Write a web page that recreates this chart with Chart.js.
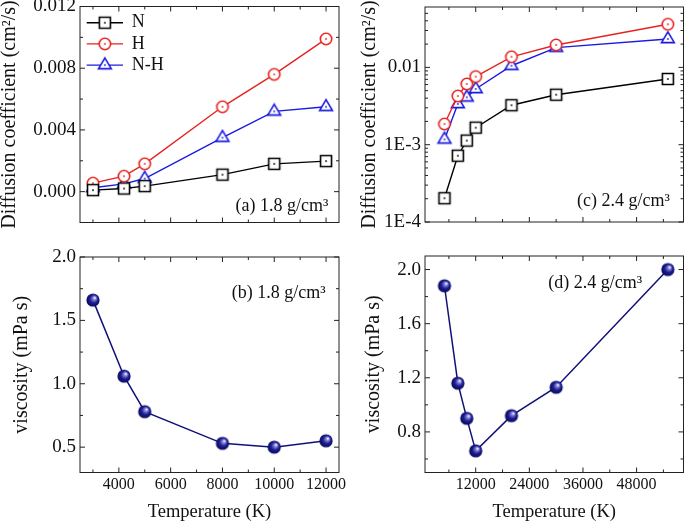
<!DOCTYPE html>
<html>
<head>
<meta charset="utf-8">
<script src="https://cdn.jsdelivr.net/npm/chart.js@4/dist/chart.umd.min.js"></script>
<style>
  html, body { margin: 0; padding: 0; background: #fff; width: 685px; height: 523px; overflow: hidden; }
  canvas { position: absolute; }
</style>
</head>
<body>
<canvas id="chartA" width="343" height="232" style="left:0;top:0"></canvas>
<canvas id="chartC" width="342" height="232" style="left:343px;top:0"></canvas>
<canvas id="chartB" width="352" height="291" style="left:0;top:232px"></canvas>
<canvas id="chartD" width="342" height="291" style="left:343px;top:232px"></canvas>
<script>
// ---- data, 1.8 g/cm3 ----
const tempLow = [3000, 4200, 5000, 8000, 10000, 12000];
const diffN_18 = [0.0001, 0.0002, 0.00036, 0.0011, 0.0018, 0.00198];
const diffH_18 = [0.00055, 0.001, 0.0018, 0.0055, 0.0076, 0.0099];
const diffNH_18 = [0.00025, 0.0005, 0.00085, 0.0035, 0.0052, 0.0055];
const visc_18 = [1.66, 1.06, 0.78, 0.53, 0.50, 0.55];

// ---- data, 2.4 g/cm3 ----
const tempHigh = [5000, 8000, 10000, 12000, 20000, 30000, 55000];
const diffN_24 = [0.000203, 0.00072, 0.00113, 0.00166, 0.00324, 0.00443, 0.00708];
const diffH_24 = [0.00185, 0.00426, 0.0061, 0.0076, 0.0137, 0.0195, 0.0361];
const diffNH_24 = [0.00117, 0.00336, 0.0041, 0.00526, 0.0105, 0.018, 0.0233];
const visc_24 = [1.88, 1.16, 0.90, 0.66, 0.92, 1.13, 2.0];

// ---- ticks ----
const tempTicksLow = [4000, 6000, 8000, 10000, 12000];
const tempMinorLow = [3000, 5000, 7000, 9000, 11000];
const tempTicksHigh = [12000, 24000, 36000, 48000];
const tempMinorHigh = [6000, 18000, 30000, 42000, 54000];
const diffTicksA = [0, 0.004, 0.008, 0.012];
const diffLabelsA = ['0.000', '0.004', '0.008', '0.012'];
const diffMinorA = [-0.002, 0.002, 0.006, 0.010];
const diffTicksC = [1e-4, 1e-3, 1e-2];
const diffLabelsC = ['1E-4', '1E-3', '0.01'];
const diffMinorC = [2e-4, 3e-4, 4e-4, 5e-4, 6e-4, 7e-4, 8e-4, 9e-4,
                    2e-3, 3e-3, 4e-3, 5e-3, 6e-3, 7e-3, 8e-3, 9e-3, 2e-2, 3e-2, 4e-2, 5e-2];
const viscTicksB = [0.5, 1.0, 1.5, 2.0];
const viscLabelsB = ['0.5', '1.0', '1.5', '2.0'];
const viscMinorB = [0.75, 1.25, 1.75];
const viscTicksD = [0.8, 1.2, 1.6, 2.0];
const viscLabelsD = ['0.8', '1.2', '1.6', '2.0'];
const viscMinorD = [0.6, 1.0, 1.4, 1.8];

const FONT = 'Liberation Serif';
const RED = '#e8221f', BLUE = '#1b1be0', NAVY = '#10107a';

// open markers with a dot in the middle
function marker(kind, color) {
  const c = document.createElement('canvas');
  c.width = 18; c.height = 18;
  const g = c.getContext('2d');
  g.lineWidth = 1.6; g.strokeStyle = color; g.fillStyle = '#fff';
  g.beginPath();
  if (kind === 'square') g.rect(3.5, 3.5, 11, 11);
  else if (kind === 'circle') g.arc(9, 9, 5.7, 0, Math.PI * 2);
  else { g.moveTo(9, 1.8); g.lineTo(15.4, 12.6); g.lineTo(2.6, 12.6); g.closePath(); }
  g.fill(); g.stroke();
  g.fillStyle = color;
  g.fillRect(8.2, 8.2, 1.6, 1.6);
  return c;
}
function ball() {
  const c = document.createElement('canvas');
  c.width = 16; c.height = 16;
  const g = c.getContext('2d');
  const grd = g.createRadialGradient(10, 5.5, 0.3, 8, 8, 7);
  grd.addColorStop(0, '#f6f6ff');
  grd.addColorStop(0.22, '#8080d4');
  grd.addColorStop(0.55, '#1d1d94');
  grd.addColorStop(1, '#060650');
  g.fillStyle = grd;
  g.beginPath(); g.arc(8, 8, 6.6, 0, Math.PI * 2); g.fill();
  return c;
}

const framePlugin = {
  id: 'frame',
  beforeDatasetsDraw(chart, args, opts) {
    const {ctx, chartArea: a} = chart;
    const x = chart.scales.x, y = chart.scales.y;
    ctx.save();
    ctx.strokeStyle = '#222';
    ctx.lineWidth = 1;
    ctx.strokeRect(a.left, a.top, a.right - a.left, a.bottom - a.top);
    ctx.beginPath();
    const vTick = (v, len) => {
      const p = x.getPixelForValue(v);
      ctx.moveTo(p, a.bottom); ctx.lineTo(p, a.bottom - len);
      ctx.moveTo(p, a.top); ctx.lineTo(p, a.top + len);
    };
    const hTick = (v, len) => {
      const p = y.getPixelForValue(v);
      ctx.moveTo(a.left, p); ctx.lineTo(a.left + len, p);
      ctx.moveTo(a.right, p); ctx.lineTo(a.right - len, p);
    };
    x.ticks.forEach(t => vTick(t.value, 5));
    (opts.xMinor || []).forEach(v => vTick(v, 3));
    y.ticks.forEach(t => hTick(t.value, 5));
    (opts.yMinor || []).forEach(v => { if (v > y.min && v < y.max) hTick(v, 3); });
    ctx.stroke();
    ctx.restore();
  }
};

const notePlugin = {
  id: 'note',
  afterDraw(chart, args, opts) {
    const ctx = chart.ctx;
    ctx.save();
    ctx.fillStyle = '#111';
    ctx.font = '18px "' + FONT + '"';
    ctx.textAlign = 'left';
    ctx.textBaseline = 'alphabetic';
    ctx.fillText(opts.text, opts.x, opts.y);
    ctx.restore();
  }
};

const keyPlugin = {
  id: 'key',
  afterDraw(chart, args, opts) {
    if (!opts.show) return;
    const {ctx, chartArea: a} = chart;
    ctx.save();
    chart.data.datasets.forEach((ds, i) => {
      const yy = a.top + opts.top + i * opts.gap;
      const x0 = a.left + opts.left;
      ctx.strokeStyle = ds.borderColor;
      ctx.lineWidth = ds.borderWidth;
      ctx.beginPath(); ctx.moveTo(x0, yy); ctx.lineTo(x0 + opts.len, yy); ctx.stroke();
      const img = ds.pointStyle;
      ctx.drawImage(img, x0 + opts.len / 2 - img.width / 2, yy - img.height / 2);
      ctx.fillStyle = '#111';
      ctx.font = '18px "' + FONT + '"';
      ctx.textBaseline = 'middle';
      ctx.fillText(ds.label, x0 + opts.len + opts.textGap, yy);
    });
    ctx.restore();
  }
};

function series(label, xs, ys, color, style, width) {
  return {
    label: label,
    data: xs.map((t, i) => ({x: t, y: ys[i]})),
    borderColor: color,
    borderWidth: width,
    pointStyle: style,
    pointRadius: 6,
    tension: 0,
    clip: false
  };
}

function panel(id, geo, datasets, sx, sy, note, key) {
  const cv = document.getElementById(id);
  return new Chart(cv, {
    type: 'line',
    data: { datasets: datasets },
    options: {
      responsive: false,
      animation: false,
      events: [],
      layout: { autoPadding: false, padding: { left: 0, top: geo.top, right: cv.width - geo.right, bottom: 0 } },
      plugins: {
        legend: { display: false },
        tooltip: { enabled: false },
        frame: { xMinor: sx.minor, yMinor: sy.minor },
        note: note,
        key: key || { show: false }
      },
      scales: {
        x: {
          type: 'linear', min: sx.min, max: sx.max,
          afterBuildTicks: s => { s.ticks = sx.ticks.map(v => ({value: v})); },
          afterFit: s => { s.height = cv.height - geo.bottom; s.paddingLeft = s.paddingRight = 0; s.paddingTop = s.paddingBottom = 0; },
          grid: { display: false, drawTicks: false, tickLength: 0 },
          border: { display: false },
          ticks: {
            display: sx.labels, autoSkip: false, maxRotation: 0, padding: sx.pad || 0,
            color: '#111', font: { family: FONT, size: 16 },
            callback: (v, i) => String(sx.ticks[i])
          },
          title: {
            display: !!sx.title, text: sx.title || '', color: '#111',
            font: { family: FONT, size: 18.5, lineHeight: 1 },
            padding: { top: 0, bottom: 2 }
          }
        },
        y: {
          type: sy.type, min: sy.min, max: sy.max,
          afterBuildTicks: s => { s.ticks = sy.ticks.map(v => ({value: v})); },
          afterFit: s => { s.width = geo.left; s.paddingLeft = s.paddingRight = 0; s.paddingTop = s.paddingBottom = 0; },
          grid: { display: false, drawTicks: false, tickLength: 0 },
          border: { display: false },
          ticks: {
            autoSkip: false, padding: 4, color: '#111',
            font: { family: FONT, size: 19 },
            callback: (v, i) => sy.labels[i]
          },
          title: {
            display: true, text: sy.title, color: '#111',
            font: { family: FONT, size: 20, lineHeight: 1 },
            padding: { top: sy.titlePad, bottom: 0 }
          }
        }
      }
    },
    plugins: [framePlugin, notePlugin, keyPlugin]
  });
}

const sq = marker('square', '#000');
const ci = marker('circle', RED);
const tr = marker('triangle', BLUE);
const bl = ball();

// (a)
panel('chartA', { left: 80, top: 6.5, right: 339, bottom: 222.5 },
  [series('N', tempLow, diffN_18, '#000', sq, 1.4),
   series('H', tempLow, diffH_18, RED, ci, 1.4),
   series('N-H', tempLow, diffNH_18, BLUE, tr, 1.4)],
  { min: 2500, max: 12500, ticks: tempTicksLow, minor: tempMinorLow, labels: false },
  { type: 'linear', min: -0.002, max: 0.012, ticks: diffTicksA, labels: diffLabelsA, minor: diffMinorA,
    title: 'Diffusion coefficient (cm²/s)', titlePad: 0 },
  { text: '(a) 1.8 g/cm³', x: 235.5, y: 211 },
  { show: true, left: 6.7, top: 16.2, gap: 21.2, len: 36.3, textGap: 8.7 });

// (c)
panel('chartC', { left: 82, top: 7, right: 340.5, bottom: 222 },
  [series('N', tempHigh, diffN_24, '#000', sq, 1.4),
   series('H', tempHigh, diffH_24, RED, ci, 1.4),
   series('N-H', tempHigh, diffNH_24, BLUE, tr, 1.4)],
  { min: 650, max: 58500, ticks: tempTicksHigh, minor: tempMinorHigh, labels: false },
  { type: 'logarithmic', min: 1e-4, max: 0.0604, ticks: diffTicksC, labels: diffLabelsC, minor: diffMinorC,
    title: 'Diffusion coefficient (cm²/s)', titlePad: 17 },
  { text: '(c) 2.4 g/cm³', x: 234, y: 205.5 });

// (b)
panel('chartB', { left: 80, top: 25, right: 339, bottom: 240.5 },
  [series('viscosity', tempLow, visc_18, NAVY, bl, 1.5)],
  { min: 2500, max: 12500, ticks: tempTicksLow, minor: tempMinorLow, labels: true, pad: 3, title: 'Temperature (K)' },
  { type: 'linear', min: 0.3, max: 2.0, ticks: viscTicksB, labels: viscLabelsB, minor: viscMinorB,
    title: 'viscosity (mPa s)', titlePad: 11.6 },
  { text: '(b) 1.8 g/cm³', x: 231.7, y: 66 });

// (d)
panel('chartD', { left: 82, top: 24, right: 340.5, bottom: 240.5 },
  [series('viscosity', tempHigh, visc_24, NAVY, bl, 1.5)],
  { min: 650, max: 58500, ticks: tempTicksHigh, minor: tempMinorHigh, labels: true, pad: 3, title: 'Temperature (K)' },
  { type: 'linear', min: 0.5, max: 2.1, ticks: viscTicksD, labels: viscLabelsD, minor: viscMinorD,
    title: 'viscosity (mPa s)', titlePad: 20.3 },
  { text: '(d) 2.4 g/cm³', x: 205.3, y: 56 });
</script>
</body>
</html>
